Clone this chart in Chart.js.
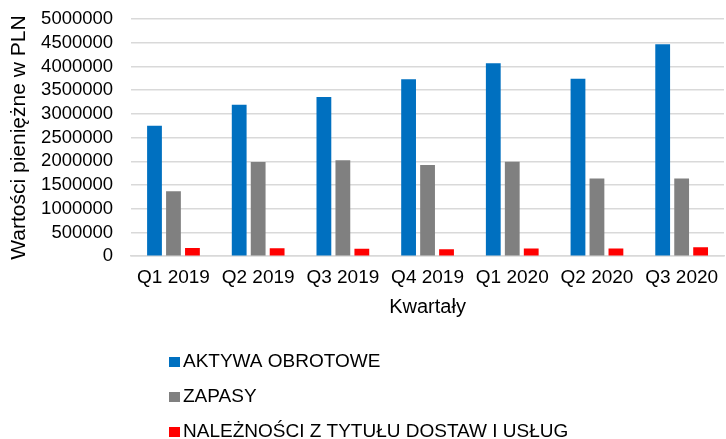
<!DOCTYPE html>
<html>
<head>
<meta charset="utf-8">
<script src="https://cdn.jsdelivr.net/npm/chart.js@4.4.1/dist/chart.umd.min.js"></script>
<style>
  html, body { margin: 0; padding: 0; background: #fff; }
  #wrap { width: 726px; height: 439px; position: relative; }
</style>
</head>
<body>
<div id="wrap"><canvas id="c" width="726" height="439"></canvas></div>
<script>
const categories = ['Q1 2019', 'Q2 2019', 'Q3 2019', 'Q4 2019', 'Q1 2020', 'Q2 2020', 'Q3 2020'];
const aktywaObrotowe = [2750000, 3190000, 3355000, 3730000, 4065000, 3740000, 4470000];
const zapasy = [1370000, 1985000, 2020000, 1920000, 1990000, 1640000, 1640000];
const naleznosci = [175000, 170000, 155000, 148000, 163000, 163000, 190000];
const seriesNames = ['AKTYWA OBROTOWE', 'ZAPASY', 'NALEŻNOŚCI Z TYTUŁU DOSTAW I USŁUG'];
const yMin = 0;
const yMax = 5000000;
const yStep = 500000;
const yTitle = 'Wartości pieniężne w PLN';
const xTitle = 'Kwartały';

const FONT = '"Liberation Sans", Arial, sans-serif';

const vLegend = {
  id: 'vLegend',
  afterDraw(chart) {
    const ctx = chart.ctx;
    ctx.save();
    ctx.font = '19px ' + FONT;
    ctx.textBaseline = 'middle';
    ctx.textAlign = 'left';
    chart.data.datasets.forEach((ds, i) => {
      const y = 362 + i * 35;
      ctx.fillStyle = ds.backgroundColor;
      ctx.fillRect(169, y - 5, 11, 10);
      ctx.fillStyle = '#000';
      ctx.fillText(ds.label, 183, y);
    });
    ctx.restore();
  }
};

new Chart(document.getElementById('c'), {
  type: 'bar',
  data: {
    labels: categories,
    datasets: [
      { label: seriesNames[0], data: aktywaObrotowe, backgroundColor: '#0070C0' },
      { label: seriesNames[1], data: zapasy, backgroundColor: '#808080' },
      { label: seriesNames[2], data: naleznosci, backgroundColor: '#FF0000' }
    ]
  },
  options: {
    responsive: false,
    animation: false,
    devicePixelRatio: 1,
    layout: { padding: { left: 0, right: 2, top: 19, bottom: 120 } },
    datasets: { bar: { categoryPercentage: 0.672, barPercentage: 0.78 } },
    plugins: {
      legend: { display: false },
      tooltip: { enabled: false }
    },
    scales: {
      x: {
        grid: { display: false, drawTicks: false },
        border: { display: true, color: '#d9d9d9', width: 1.5 },
        ticks: { color: '#000', font: { family: FONT, size: 19 }, padding: 10.5, maxRotation: 0, autoSkip: false },
        title: { display: true, text: xTitle, color: '#000', font: { family: FONT, size: 20 }, padding: { top: -5, bottom: 0 } },
        afterFit(scale) { scale.paddingLeft = 0; scale.paddingRight = 0; }
      },
      y: {
        min: yMin,
        max: yMax,
        grid: { color: '#d9d9d9', lineWidth: 1.5, drawTicks: false },
        border: { display: false },
        ticks: {
          stepSize: yStep,
          autoSkip: false,
          color: '#000',
          font: { family: FONT, size: 18.5 },
          padding: 18,
          callback: (v) => String(v)
        },
        title: { display: true, text: yTitle, color: '#000', font: { family: FONT, size: 21 }, padding: { top: 7, bottom: -9.1 } },
        afterFit(scale) { scale.paddingTop = 0; scale.paddingBottom = 0; }
      }
    }
  },
  plugins: [vLegend]
});
</script>
</body>
</html>
